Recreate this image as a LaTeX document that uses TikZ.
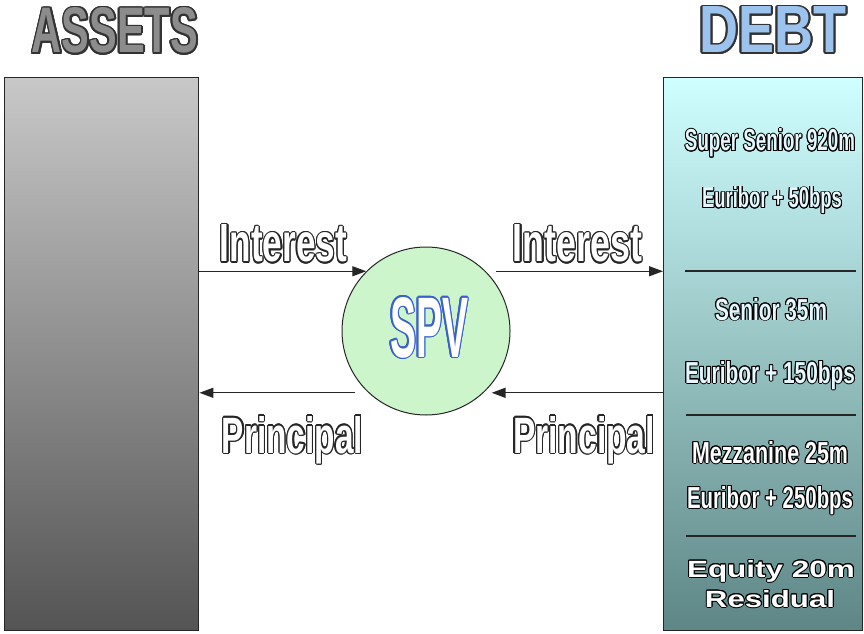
\documentclass[tikz,border=0pt]{standalone}
\usepackage{fontspec}
\setmainfont{Liberation Sans}
\usepackage{graphicx}
\usepackage{contour}
\usetikzlibrary{arrows.meta}

\definecolor{assetstop}{RGB}{200,200,200}
\definecolor{assetsbot}{RGB}{84,84,84}
\definecolor{debttop}{RGB}{208,255,255}
\definecolor{debtbot}{RGB}{94,134,134}
\definecolor{spvgreen}{RGB}{204,245,204}
\definecolor{spvblue}{RGB}{58,95,208}
\definecolor{titlegray}{RGB}{140,140,140}
\definecolor{titleblue}{RGB}{156,195,238}

% squeezed bold text: width, height, text
\newcommand{\squeeze}[3]{\resizebox{#1pt}{#2pt}{\bfseries #3}}
\newcommand{\ringed}[3]{{\contourlength{#1}\contour{#2}{#3}}}

\tikzset{
  flow/.style={-{Triangle[length=14pt,width=10pt]}, line width=1.4pt, black!85},
  label/.style={anchor=base, inner sep=0pt, text=white},
  divider/.style={line width=1.3pt, black!85},
}

\begin{document}
\begin{tikzpicture}[x=1pt, y=1pt]
    \useasboundingbox (0,0) rectangle (864,633);

    % Titoli
    \node[label, text=titlegray] (assetsTitle) at (115,580) {\ringed{1.8pt}{black!80}{\squeeze{166}{45}{ASSETS}}};
    \node[label, text=titleblue] (debtTitle) at (773,580) {\ringed{1.8pt}{black!80}{\squeeze{147}{46}{DEBT}}};

    % Blocchi
    \node[draw=black!85, line width=1.4pt, top color=assetstop, bottom color=assetsbot,
          minimum width=194pt, minimum height=553pt, anchor=south west, inner sep=0pt] (assets) at (4,2) {};
    \node[draw=black!85, line width=1.4pt, top color=debttop, bottom color=debtbot,
          minimum width=199pt, minimum height=553pt, anchor=south west, inner sep=0pt] (debt) at (663,2) {};

    % SPV
    \node[circle, draw=black!85, line width=1pt, fill=spvgreen, minimum size=168pt, inner sep=0pt] (spv) at (426,302) {};
    \node[label] (spvText) at (429,276) {\ringed{1.2pt}{spvblue}{\squeeze{78}{60}{SPV}}};

    % Flussi
    \draw[flow] (assets.east |- spv.135) -- (spv.135);
    \draw[flow] ([xshift=10pt]spv.45) -- (debt.west |- spv.45);
    \draw[flow] (debt.west |- spv.-47) -- ([xshift=8pt]spv.-47);
    \draw[flow] ([xshift=-13pt]spv.227) -- (assets.east |- spv.227);

    \node[label] (intLeft) at (283.5,371) {\ringed{1.2pt}{black!85}{\squeeze{127}{37}{Interest}}};
    \node[label] (intRight) at (577.5,371) {\ringed{1.2pt}{black!85}{\squeeze{129}{37}{Interest}}};
    \node[label] (prinLeft) at (292.5,180) {\ringed{1.2pt}{black!85}{\squeeze{141}{37}{Principal}}};
    \node[label] (prinRight) at (584,180) {\ringed{1.2pt}{black!85}{\squeeze{142}{37}{Principal}}};

    % Tranche
    \node[label, text=white!90!cyan] (superSenior) at (770,482) {\ringed{1pt}{black}{\squeeze{170}{22}{Super Senior 920m}}};
    \node[label, text=white!90!cyan] (superRate) at (772,425) {\ringed{1pt}{black}{\squeeze{140}{21}{Euribor + 50bps}}};
    \draw[divider] (685,362) -- (856,362);
    \node[label, text=white!90!cyan] (senior) at (771,313) {\ringed{1pt}{black}{\squeeze{112}{22}{Senior 35m}}};
    \node[label, text=white!90!cyan] (seniorRate) at (770,250) {\ringed{1pt}{black}{\squeeze{170}{22}{Euribor + 150bps}}};
    \draw[divider] (686,218) -- (856,218);
    \node[label] (mezz) at (770,170) {\ringed{1pt}{black}{\squeeze{156}{22}{Mezzanine 25m}}};
    \node[label] (mezzRate) at (770,125) {\ringed{1pt}{black}{\squeeze{166}{22}{Euribor + 250bps}}};
    \draw[divider] (686,97) -- (856,97);
    \node[label] (equity) at (771,56) {\ringed{1pt}{black}{\squeeze{168}{17}{Equity 20m}}};
    \node[label] (residual) at (770,26) {\ringed{1pt}{black}{\squeeze{130}{17}{Residual}}};
\end{tikzpicture}
\end{document}
